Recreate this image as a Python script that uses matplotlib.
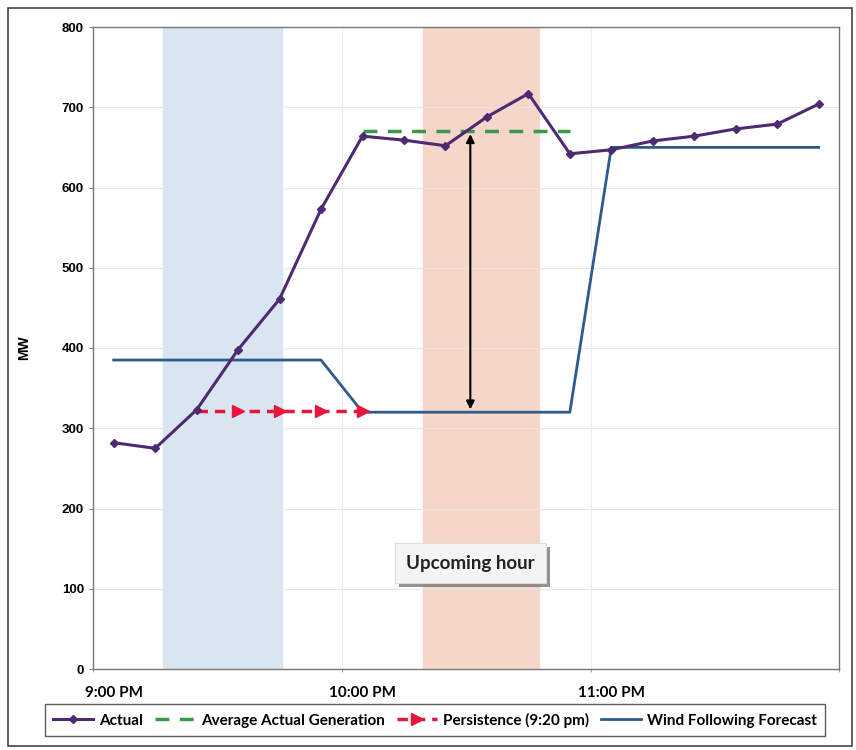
import matplotlib
matplotlib.use("Agg")
import matplotlib.pyplot as plt
import matplotlib.patheffects as pe
from matplotlib.patches import Rectangle
import numpy as np

# minutes after 9:00 PM
minutes = [0, 10, 20, 30, 40, 50, 60, 70, 80, 90, 100, 110, 120, 130, 140, 150, 160, 170]
actual = [282, 275, 323, 398, 461, 573, 664, 659, 652, 688, 717, 642, 647, 658, 664, 673, 679, 704]
forecast = [385, 385, 385, 385, 385, 385, 320, 320, 320, 320, 320, 320, 650, 650, 650, 650, 650, 650]

persist_min = [20, 30, 40, 50, 60]
persist_val = [322, 322, 322, 322, 322]

avg_min = [60, 110]
avg_val = [670, 670]

blue_span = (12, 40.5)
red_span = (74.5, 102.5)
arrow_x = 86
arrow_top, arrow_bottom = 670, 320

tick_pos = [0, 60, 120]
tick_labels = ["9:00 PM", "10:00 PM", "11:00 PM"]

fig = plt.figure(figsize=(8.56, 7.5), dpi=100)
ax = fig.add_axes([0.1086, 0.108, 0.872, 0.856])

ax.axvspan(*blue_span, color="#d9e5f1", zorder=0)
ax.axvspan(*red_span, color="#f6d6c9", zorder=0)

ax.plot(minutes, forecast, color="#2d5b8e", lw=2.0, zorder=3, label="Wind Following Forecast")
ax.plot(avg_min, avg_val, color="#3a9a4a", lw=2.5, ls=(0, (4, 3)), zorder=4,
        label="Average Actual Generation")
ax.plot(persist_min, persist_val, color="#e8163c", lw=2.5, ls=(0, (3, 2)),
        marker=">", ms=8, markevery=[1, 2, 3, 4], zorder=5, label="Persistence (9:20 pm)")
ax.plot(minutes, actual, color="#4e2a72", lw=2.2, marker="D", ms=4.5, zorder=6, label="Actual")

ax.annotate("", xy=(arrow_x, arrow_bottom), xytext=(arrow_x, arrow_top),
            arrowprops=dict(arrowstyle="<|-|>", color="black", lw=1.5, mutation_scale=12),
            zorder=7)

t = ax.text(arrow_x, 132, "Upcoming hour", ha="center", va="center", fontsize=13.5,
            fontweight="bold", family="Lato", color="#222222", zorder=8,
            bbox=dict(boxstyle="square,pad=0.6", fc="#f4f4f4", ec="#dddddd", lw=0.8))
t.get_bbox_patch().set_path_effects([pe.withSimplePatchShadow(offset=(3, -3), shadow_rgbFace="#666666", alpha=0.7)])

ax.set_xlim(-5, 175)
ax.set_ylim(0, 800)
ax.set_yticks(range(0, 801, 100))
ax.set_xticks(tick_pos)
ax.set_xticklabels(tick_labels, family="Lato", fontweight="bold", fontsize=11)
ax.set_xticks([-5, 55, 115, 175], minor=True)
ax.tick_params(axis="x", which="major", length=0, pad=12)
ax.tick_params(axis="x", which="minor", length=4, direction="inout", color="#888888")
ax.tick_params(axis="y", length=3, color="#888888", labelsize=9.5)
for lab in ax.get_yticklabels():
    lab.set_fontweight("bold")
    lab.set_family("Liberation Sans")
ax.grid(axis="y", color="#e6e6e6", lw=0.8, zorder=1)
ax.set_axisbelow(True)
for x in [55, 115]:
    ax.axvline(x, color="#eeeeee", lw=0.8, zorder=1)
for s in ax.spines.values():
    s.set_color("#777777")
    s.set_linewidth(1.0)

ax.set_ylabel("MW", fontweight="bold", family="Liberation Sans", fontsize=10, labelpad=22)

handles, labels = ax.get_legend_handles_labels()
order = [3, 1, 2, 0]
leg = fig.legend([handles[i] for i in order], [labels[i] for i in order], ncol=4,
                 loc="center", bbox_to_anchor=(0.508, 0.04), frameon=True, fancybox=False,
                 edgecolor="#333333", handlelength=2.6, columnspacing=0.8, handletextpad=0.4,
                 borderpad=0.55, prop=dict(family="Lato", weight="bold", size=11))
leg.get_frame().set_linewidth(1.0)

fig.patches.append(Rectangle((8 / 856, 4 / 750), 844 / 856, 738 / 750, transform=fig.transFigure,
                             fill=False, ec="#444444", lw=1.2))

fig.savefig("out.png", dpi=100)
